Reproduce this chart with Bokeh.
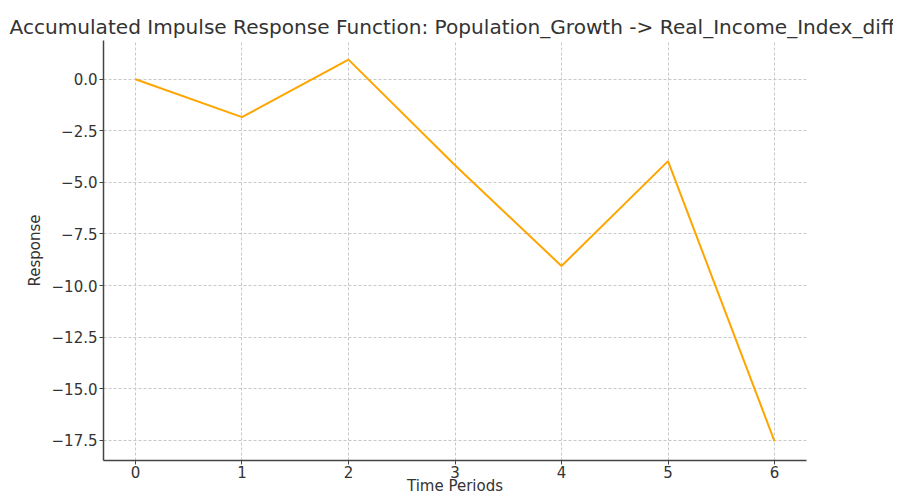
from bokeh.plotting import figure
from bokeh.models import FixedTicker, Range1d
from bokeh.embed import file_html
from bokeh.resources import INLINE

periods = [0, 1, 2, 3, 4, 5, 6]
response = [0.0, -1.84, 0.95, -4.17, -9.05, -3.97, -17.55]
x_ticks = [0, 1, 2, 3, 4, 5, 6]
y_ticks = [0.0, -2.5, -5.0, -7.5, -10.0, -12.5, -15.0, -17.5]

title_text = "Accumulated Impulse Response Function: Population_Growth -> Real_Income_Index_diff"

p = figure(width=893, height=497, output_backend="svg", toolbar_location=None,
           x_range=Range1d(-0.3, 6.3), y_range=Range1d(-18.475, 1.875),
           min_border_left=103, min_border_right=87, min_border_top=40, min_border_bottom=37)

p.title.text = title_text
p.title.text_font = "DejaVu Sans"
p.title.text_font_size = "20.1px"
p.title.text_font_style = "normal"
p.title.text_color = "#333333"
p.title.align = "left"
p.title.offset = -94
p.title.standoff = 4

p.line(periods, response, line_color="#FFA500", line_width=2)

p.outline_line_color = None
for ax in (p.xaxis[0], p.yaxis[0]):
    ax.axis_line_color = "#444444"
    ax.axis_line_width = 1.5
    ax.major_tick_line_color = "#444444"
    ax.major_tick_out = 4
    ax.major_tick_in = 0
    ax.minor_tick_line_color = None
    ax.major_label_text_font = "DejaVu Sans"
    ax.major_label_text_font_size = "15px"
    ax.major_label_text_color = "#333333"
    ax.axis_label_text_font = "DejaVu Sans"
    ax.axis_label_text_font_size = "15px"
    ax.axis_label_text_font_style = "normal"
    ax.axis_label_text_color = "#333333"

p.xaxis.ticker = FixedTicker(ticks=x_ticks)
p.yaxis.ticker = FixedTicker(ticks=y_ticks)
p.yaxis.major_label_overrides = {v: f"{v:.1f}".replace("-", "\u2212") for v in y_ticks}
p.xaxis.axis_label = "Time Periods"
p.yaxis.axis_label = "Response"
p.xaxis.axis_label_standoff = -4
p.yaxis.axis_label_standoff = 5
p.xaxis.major_label_standoff = 1
p.yaxis.major_label_standoff = 2

p.xgrid.ticker = FixedTicker(ticks=x_ticks)
p.ygrid.ticker = FixedTicker(ticks=y_ticks)
for g in (p.xgrid[0], p.ygrid[0]):
    g.grid_line_color = "#c8c8c8"
    g.grid_line_dash = "3 2"
    g.grid_line_width = 1

open("out.html", "w").write(file_html(p, INLINE))
